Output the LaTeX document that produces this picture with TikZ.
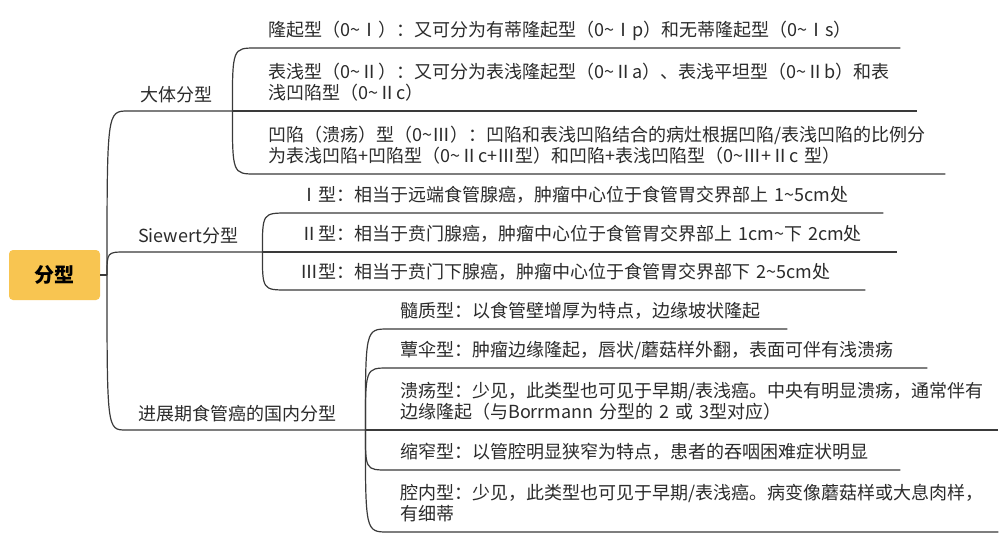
\documentclass[tikz,border=0pt]{standalone}
\usepackage{fontspec}
\newfontfamily\cjk{Noto Sans CJK SC}
\newcommand{\tld}{\char"7E\relax}
\definecolor{linec}{HTML}{3A3A3A}
\definecolor{txtc}{HTML}{2B2B2B}
\definecolor{rootc}{HTML}{F8C551}
\begin{document}
\begin{tikzpicture}[x=1pt,y=-1pt,
  conn/.style={draw=linec,line width=1.2pt},
  topic/.style={font=\cjk\fontsize{18}{21}\selectfont, text=txtc, anchor=south west,
    inner xsep=12pt, inner ysep=5pt, align=left, execute at end node=\strut},
  mainbr/.style={topic, inner ysep=3pt}]
\useasboundingbox (0,0) rectangle (1000,542);
\fill[white] (0,0) rectangle (1000,542);
% root
\node[fill=rootc, rounded corners=4pt, minimum width=91pt, minimum height=50pt,
  font=\cjk\bfseries\fontsize{20}{24}\selectfont, text=black, inner sep=0pt] (root) at (54.5,275) {分型};
\coordinate (t) at (107,275);
% main branches
\node[mainbr, text width=80pt] (b1) at (128,111) {大体分型};
\node[mainbr, text width=112pt] (b2) at (126,252) {Siewert分型};
\node[mainbr, text width=215pt] (b3) at (126,430) {进展期食管癌的国内分型};
% 大体分型 children
\node[topic, text width=620pt] (c1) at (256,48) {隆起型（0\tld Ⅰ）：又可分为有蒂隆起型（0\tld Ⅰp）和无蒂隆起型（0\tld Ⅰs）};
\node[topic, text width=637pt] (c2) at (256,111) {表浅型（0\tld Ⅱ）：又可分为表浅隆起型（0\tld Ⅱa）、表浅平坦型（0\tld Ⅱb）和表\\浅凹陷型（0\tld Ⅱc）};
\node[topic, text width=665pt] (c3) at (256,174) {凹陷（溃疡）型（0\tld Ⅲ）：凹陷和表浅凹陷结合的病灶根据凹陷/表浅凹陷的比例分\\为表浅凹陷+凹陷型（0\tld Ⅱc+Ⅲ型）和凹陷+表浅凹陷型（0\tld Ⅲ+Ⅱc 型）};
% Siewert children
\node[topic, text width=571pt] (d1) at (288,213) {Ⅰ型：相当于远端食管腺癌，肿瘤中心位于食管胃交界部上 1\tld 5cm处};
\node[topic, text width=585pt] (d2) at (288,252) {Ⅱ型：相当于贲门腺癌，肿瘤中心位于食管胃交界部上 1cm\tld 下 2cm处};
\node[topic, text width=553pt] (d3) at (288,290) {Ⅲ型：相当于贲门下腺癌，肿瘤中心位于食管胃交界部下 2\tld 5cm处};
% 国内分型 children
\node[topic, text width=375pt] (e1) at (388,329) {髓质型：以食管壁增厚为特点，边缘坡状隆起};
\node[topic, text width=515pt] (e2) at (388,368) {蕈伞型：肿瘤边缘隆起，唇状/蘑菇样外翻，表面可伴有浅溃疡};
\node[topic, text width=586pt] (e3) at (388,430) {溃疡型：少见，此类型也可见于早期/表浅癌。中央有明显溃疡，通常伴有\\边缘隆起（与Borrmann 分型的 2 或 3型对应）};
\node[topic, text width=488pt] (e4) at (388,470) {缩窄型：以管腔明显狭窄为特点，患者的吞咽困难症状明显};
\node[topic, text width=586pt] (e5) at (388,532) {腔内型：少见，此类型也可见于早期/表浅癌。病变像蘑菇样或大息肉样，\\有细蒂};
% connectors
\draw[conn] (root.east) -- (t);
\foreach \c in {b1,b2,b3}
  \draw[conn] (t) .. controls (t |- \c.south west) .. (\c.south west) -- (\c.south east);
\foreach \c in {c1,c2,c3}
  \draw[conn] (b1.south east) .. controls (b1.south east |- \c.south west) .. (\c.south west) -- (\c.south east);
\foreach \c in {d1,d2,d3}
  \draw[conn] (b2.south east) .. controls (b2.south east |- \c.south west) .. (\c.south west) -- (\c.south east);
\foreach \c in {e1,e2,e3,e4,e5}
  \draw[conn] (b3.south east) .. controls (b3.south east |- \c.south west) .. (\c.south west) -- (\c.south east);
\end{tikzpicture}
\end{document}
